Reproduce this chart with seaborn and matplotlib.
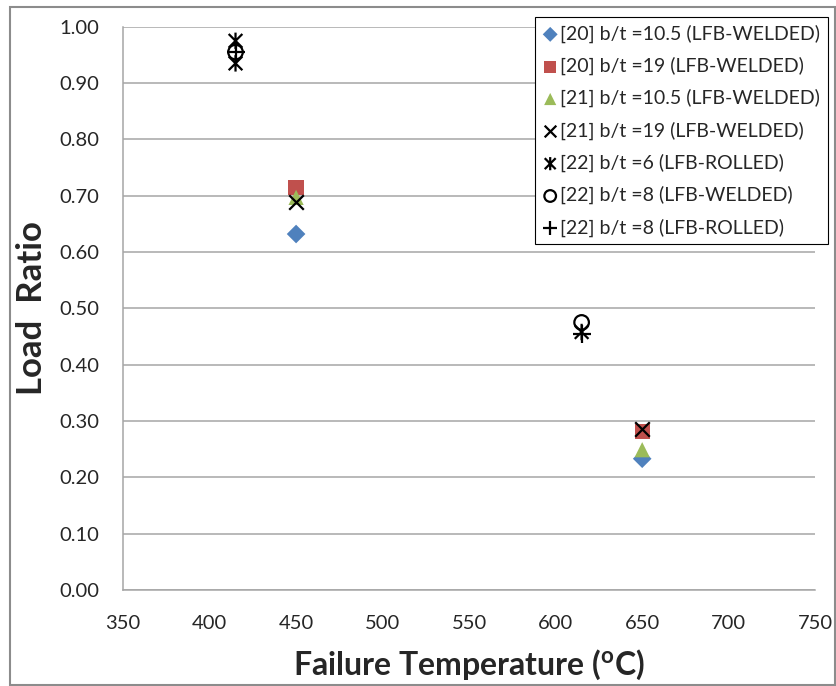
import numpy as np
import pandas as pd
import matplotlib
matplotlib.use('Agg')
import matplotlib.pyplot as plt
from matplotlib.path import Path
from matplotlib.patches import Rectangle
import seaborn as sns

# values
temp_20 = [450, 650]
ratio_20_105 = [0.632, 0.233]
ratio_20_19 = [0.714, 0.281]

temp_21 = [450, 650]
ratio_21_105 = [0.697, 0.249]
ratio_21_19 = [0.689, 0.285]

temp_22_6 = [415, 415, 615]
ratio_22_6 = [0.975, 0.935, 0.458]
temp_22_8w = [415, 615]
ratio_22_8w = [0.955, 0.475]
temp_22_8r = [415, 615]
ratio_22_8r = [0.955, 0.455]

labels = ['[20] b/t =10.5 (LFB-WELDED)', '[20] b/t =19 (LFB-WELDED)',
          '[21] b/t =10.5 (LFB-WELDED)', '[21] b/t =19 (LFB-WELDED)',
          '[22] b/t =6 (LFB-ROLLED)', '[22] b/t =8 (LFB-WELDED)',
          '[22] b/t =8 (LFB-ROLLED)']

sns.set_style('white')
plt.rcParams['font.family'] = ['Lato', 'DejaVu Sans']
plt.rcParams['mathtext.fontset'] = 'custom'
plt.rcParams['mathtext.rm'] = 'Lato'
plt.rcParams['mathtext.bf'] = 'Lato:bold'

# excel style asterisk: X with a vertical bar
star = Path([(-1, -1), (1, 1), (-1, 1), (1, -1), (0, -1.2), (0, 1.2)],
            [Path.MOVETO, Path.LINETO, Path.MOVETO, Path.LINETO, Path.MOVETO, Path.LINETO])

fig = plt.figure(figsize=(8.37, 6.86), dpi=100)
ax = fig.add_axes([0.147, 0.140, 0.827, 0.821])

series = [
    (temp_20, ratio_20_105, 'D', '#4F81BD', 90, 'fill'),
    (temp_20, ratio_20_19, 's', '#C0504D', 120, 'fill'),
    (temp_21, ratio_21_105, '^', '#9BBB59', 120, 'fill'),
    (temp_21, ratio_21_19, 'x', 'black', 110, 'line'),
    (temp_22_6, ratio_22_6, star, 'black', 140, 'open'),
    (temp_22_8w, ratio_22_8w, 'o', 'black', 110, 'open'),
    (temp_22_8r, ratio_22_8r, '+', 'black', 150, 'line'),
]

for (xs, ys, mk, col, size, kind), lab in zip(series, labels):
    df = pd.DataFrame({'temp': xs, 'ratio': ys})
    if kind == 'open':
        sns.scatterplot(data=df, x='temp', y='ratio', marker=mk, s=size, ax=ax,
                        facecolor='none', edgecolor=col, linewidth=1.6, label=lab, zorder=3)
    elif kind == 'fill':
        sns.scatterplot(data=df, x='temp', y='ratio', marker=mk, s=size, ax=ax,
                        color=col, edgecolor='none', label=lab, zorder=3)
    else:
        sns.scatterplot(data=df, x='temp', y='ratio', marker=mk, s=size, ax=ax,
                        color=col, linewidth=1.6, label=lab, zorder=3)

ax.set_xlim(350, 750)
ax.set_ylim(0, 1.0)
ax.set_xticks(np.arange(350, 751, 50))
ax.set_yticks(np.arange(0, 1.01, 0.1))
ax.set_yticklabels([f'{v:.2f}' for v in np.arange(0, 1.01, 0.1)])
ax.tick_params(labelsize=14.5, length=0)
ax.tick_params(axis='x', pad=18)
ax.tick_params(axis='y', pad=17)
ax.grid(axis='y', color='#A6A6A6', linewidth=1.1)
ax.set_axisbelow(True)
for side in ['top', 'right']:
    ax.spines[side].set_visible(False)
for side in ['left', 'bottom']:
    ax.spines[side].set_color('#A6A6A6')
    ax.spines[side].set_linewidth(1.1)

ax.set_xlabel(r'Failure Temperature ($\mathbf{^{o}}$C)', fontsize=23, fontweight='bold', labelpad=11)
ax.set_ylabel('Load  Ratio', fontsize=25, fontweight='bold', labelpad=8)

leg = ax.legend(loc='upper right', bbox_to_anchor=(1.018, 1.018), fontsize=14,
                frameon=True, fancybox=False, edgecolor='black', framealpha=1,
                handletextpad=0.1, handlelength=0.8, borderpad=0.4, labelspacing=0.72,
                borderaxespad=0, markerscale=0.8)
leg.get_frame().set_linewidth(0.8)

# grey outer border of the chart area
fig.patches.append(Rectangle((10 / 837, 1 / 686), 825 / 837, 678 / 686, transform=fig.transFigure,
                             fill=False, edgecolor='#8C8C8C', linewidth=1.5))

plt.savefig('out.png', dpi=100)
